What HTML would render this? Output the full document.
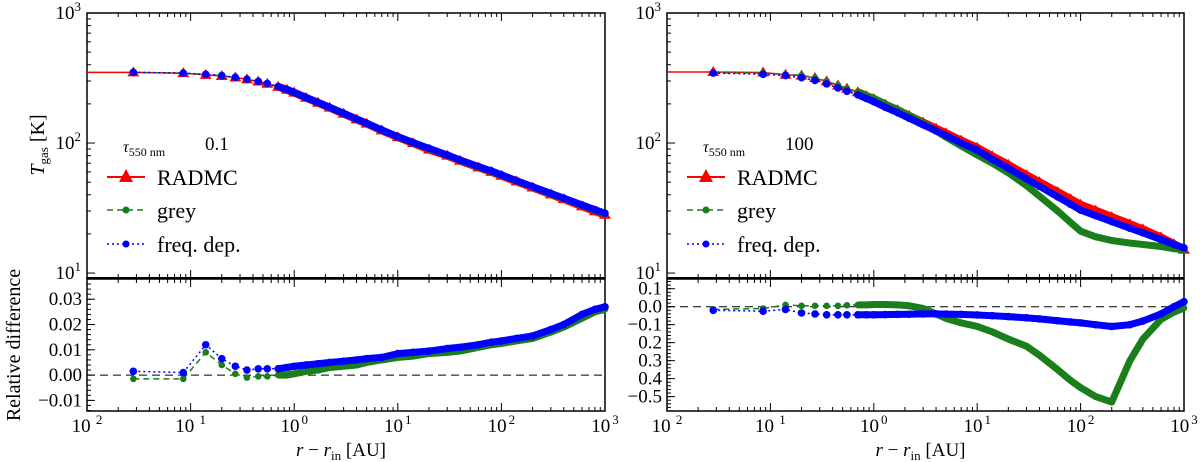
<!DOCTYPE html>
<html><head><meta charset="utf-8"><style>
html,body{margin:0;padding:0;background:#fff;}
svg{display:block;font-family:"Liberation Serif",serif;}
</style></head><body>
<svg id="chart" width="1200" height="462" viewBox="0 0 1200 462" xmlns="http://www.w3.org/2000/svg"></svg>
<script>
// ---- data ----
const radii = [0.028,0.085,0.14,0.2,0.27,0.35,0.45,0.55,0.7,0.85,1,1.3,1.7,2.2,3,4,5,7,10,14,20,30,40,60,80,100,140,200,300,400,600,800,1000];
const tauLeft = "0.1";
const tauRight = "100";
// left panel (tau=0.1)
const leftRadmc = [349.5,344.6,334,328,319,309,297,286,271,257,244,223,204,187,168,152,141,125,111,100,89,80,73,65,60,56,50.7,45.5,40.3,37,32.6,29.9,28.1];
const leftGrey  = [349,344,337,329,319,309,297,286,271,257,244.5,223.5,204.5,187.5,168.5,152.5,141.5,125.5,111.5,100.5,90.5,80.5,73.5,65.5,60.5,56.5,51.1,45.9,40.7,37.4,33.1,30.4,28.6];
const leftFreq  = [350,345,338,330,320,310,298,287,272,258,245,224,205,188,169,153,142,126,112,101,91,81,74,66,61,57,51.4,46.2,41,37.7,33.4,30.7,28.9];
const leftDiffGrey = [-0.0015,-0.0015,0.009,0.004,0.0005,-0.001,-0.0005,-0.0005,0,0,0.0005,0.0015,0.002,0.003,0.0035,0.004,0.005,0.006,0.007,0.0075,0.0085,0.009,0.0095,0.011,0.012,0.0125,0.0135,0.0145,0.017,0.019,0.0225,0.025,0.026];
const leftDiffFreq = [0.0015,0.001,0.012,0.0065,0.0035,0.002,0.0025,0.0025,0.0025,0.003,0.0035,0.004,0.0045,0.005,0.0055,0.006,0.0065,0.007,0.0085,0.009,0.0095,0.0105,0.011,0.012,0.013,0.0135,0.0145,0.0155,0.018,0.02,0.024,0.026,0.027];
// right panel (tau=100)
const rightRadmc = [352,349,335,330,316,298,277,262,246,230,218,197,179,162,144,129,119,104.5,92,79,68,56.5,50,42,37,33.5,30.2,27,23.8,21.7,18.8,16.7,15.1];
const rightGrey  = [347,345,338,332,318,300,279,264,248,232,221,199,181,163,143,124,111,95,81,70,59,47,39,30,24.5,21,19,17.8,17,16.6,16,15.4,15];
const rightFreq  = [345,338,330,318,303,285,265,250,235,220,208,188,171,155,138,124,114,100,88,75,64,53,46.5,38.6,33.8,30.5,27.6,24.9,22.1,20.4,18.1,16.6,15.6];
const rightDiffGrey = [-0.015,-0.01,0.01,0.005,0.005,0.005,0.005,0.008,0.01,0.01,0.012,0.012,0.01,0.005,-0.01,-0.04,-0.065,-0.09,-0.11,-0.14,-0.18,-0.22,-0.27,-0.35,-0.41,-0.45,-0.5,-0.53,-0.3,-0.18,-0.07,-0.03,-0.007];
const rightDiffFreq = [-0.02,-0.025,-0.015,-0.035,-0.04,-0.045,-0.045,-0.045,-0.045,-0.045,-0.045,-0.044,-0.043,-0.042,-0.04,-0.04,-0.041,-0.043,-0.046,-0.05,-0.055,-0.062,-0.068,-0.078,-0.085,-0.09,-0.1,-0.11,-0.1,-0.08,-0.04,0.0,0.028];
const xTickExp = ["−2","−1","0","1","2","3"];
const leftDiffTicks = [0.03,0.02,0.01,0.00,-0.01];
const leftDiffLabels = ["0.03","0.02","0.01","0.00","−0.01"];
const rightDiffTicks = [0.1,0.0,-0.1,-0.2,-0.3,-0.4,-0.5];
const rightDiffLabels = ["0.1","0.0","−0.1","0.2","0.3","0.4","−0.5"];

const NS="http://www.w3.org/2000/svg";
const svg=document.getElementById('chart');
function mk(tag,attrs,parent){const e=document.createElementNS(NS,tag);for(const k in attrs)e.setAttribute(k,attrs[k]);(parent||svg).appendChild(e);return e;}

function panel(px0,px1,tau,radmc,grey,freq,dGrey,dFreq,dTicks,dLabels,dMin,dMax,side){
  const g=mk('g',{});
  
  
  const topY0=13,topY1=278,botY0=279,botY1=411;
  const xs=r=>px0+(Math.log10(r)+2)/5*(px1-px0);
  const ys=T=>topY0+(3-Math.log10(T))/(3-0.962)*(topY1-topY0);
  const yd=v=>botY0+(dMax-v)/(dMax-dMin)*(botY1-botY0);
  const f1=mk('rect',{x:px0,y:topY0,width:px1-px0,height:topY1-topY0,fill:'none',stroke:'#000','stroke-width':1.5},g);
  
  
  const f2=mk('rect',{x:px0,y:botY0,width:px1-px0,height:botY1-botY0,fill:'none',stroke:'#000','stroke-width':1.5},g);
  
  
  mk('line',{x1:px0,x2:px1,y1:topY1,y2:topY1,stroke:'#000','stroke-width':2},g);
  for(let d=-2;d<=3;d++){
    for(let m=1;m<=9;m++){
      if(d==3&&m>1)break;
      const x=xs(m*Math.pow(10,d));const L=m==1?8:4;
      [topY0,botY0].forEach(y=>mk('line',{x1:x,x2:x,y1:y,y2:y+L,stroke:'#000','stroke-width':1},g));
      [topY1,botY1].forEach(y=>mk('line',{x1:x,x2:x,y1:y,y2:y-L,stroke:'#000','stroke-width':1},g));
    }
  }
  xTickExp.forEach((e,i)=>{
    const x=xs(Math.pow(10,i-2));
    const t=mk('text',{x:x,y:432,'font-size':19,'text-anchor':'middle'},g);
    
    
    t.textContent='10';
    const s=mk('tspan',{dx:2,dy:-8,'font-size':13},t);s.textContent=(e.startsWith('−')?' ':'')+e.replace('−','');
  });
  const xl=mk('text',{x:(px0+px1)/2-5,y:456,'font-size':19,'text-anchor':'middle'},g);
  
  
  xl.innerHTML='<tspan font-style="italic">r</tspan> − <tspan font-style="italic">r</tspan><tspan font-size="13" dy="4">in</tspan><tspan dy="-4"> [AU]</tspan>';
  for(let d=1;d<=2;d++)for(let m=1;m<=9;m++){const y=ys(m*Math.pow(10,d));mk('line',{x1:px0,x2:px0+(m==1?8:4),y1:y,y2:y,stroke:'#000'},g);}
  mk('line',{x1:px0,x2:px0+8,y1:ys(1000),y2:ys(1000),stroke:'#000'},g);
  [3,2,1].forEach(e=>{
    const t=mk('text',{x:px0-6,y:ys(Math.pow(10,e))+6,'font-size':19,'text-anchor':'end'},g);
    
    
    t.innerHTML='10<tspan font-size="13" dy="-8">'+e+'</tspan>';
  });
  dTicks.forEach((v,i)=>{
    const y=yd(v);mk('line',{x1:px0,x2:px0+8,y1:y,y2:y,stroke:'#000'},g);
    const t=mk('text',{x:px0-5,y:y+6,'font-size':19,'text-anchor':'end'},g);
    
    
    t.textContent=dLabels[i];
  });
  const step=(dTicks[0]-dTicks[1])/5;
  for(let v=dTicks[dTicks.length-1]-step*5;v<dMax;v+=step){if(v>dMin)mk('line',{x1:px0,x2:px0+4,y1:yd(v),y2:yd(v),stroke:'#000'},g);}
  const z=mk('line',{x1:px0,x2:px1,y1:yd(0),y2:yd(0),stroke:'#000','stroke-width':1,'stroke-dasharray':'8,5'},g);
  
  
  function series(vals,yf,color,dash,marker,name,flat){
    const sg=mk('g',{},g);
    
    
    let pts=radii.map((r,i)=>xs(r)+','+yf(vals[i]));
    if(flat)pts.unshift(px0+','+yf(vals[0]));
    mk('polyline',{points:pts.join(' '),fill:'none',stroke:color,'stroke-width':1.5,'stroke-dasharray':dash},sg);
    const dense=radii.map((r,i)=>r>=0.7?xs(r)+','+yf(vals[i]):null).filter(p=>p);
    mk('polyline',{points:dense.join(' '),fill:'none',stroke:color,'stroke-width':marker=='tri'?8:7,'stroke-linejoin':'round'},sg);
    radii.forEach((r,i)=>{
      const x=xs(r),y=yf(vals[i]);
      if(marker=='tri')mk('polygon',{points:`${x},${y-6} ${x-6},${y+4} ${x+6},${y+4}`,fill:color},sg);
      else mk('circle',{cx:x,cy:y,r:marker=='big'?3.8:3.3,fill:color},sg);
    });
  }
  series(radmc,ys,'#ff0000','','tri',side+'-radmc-series',true);
  series(grey,ys,'#1a7f1a','6,4','small',side+'-grey-series',false);
  series(freq,ys,'#0000ff','2,3','big',side+'-freq-series',false);
  series(dGrey,yd,'#1a7f1a','6,4','small',side+'-grey-diff-series',false);
  series(dFreq,yd,'#0000ff','2,3','big',side+'-freq-diff-series',false);
  const lx=px0+20;
  const lg=mk('g',{},g);
  
  
  const tt=mk('text',{x:px0+36,y:152,'font-size':16},lg);
  tt.innerHTML='<tspan font-style="italic">τ</tspan><tspan font-size="12" dy="4">550 nm</tspan>';
  const tv=mk('text',{x:px0+118,y:150,'font-size':19},lg);tv.textContent=tau;
  const ent=[['RADMC','#ff0000','','tri',177],['grey','#1a7f1a','6,4','small',210],['freq. dep.','#0000ff','2,3','big',244]];
  ent.forEach(e=>{
    const eg=mk('g',{},lg);
    
    
    mk('line',{x1:lx,x2:lx+38,y1:e[4],y2:e[4],stroke:e[1],'stroke-width':e[3]=='tri'?2:1.5,'stroke-dasharray':e[2]},eg);
    const cx=lx+19,cy=e[4];
    if(e[3]=='tri')mk('polygon',{points:`${cx},${cy-8} ${cx-7},${cy+5} ${cx+7},${cy+5}`,fill:e[1]},eg);
    else mk('circle',{cx:cx,cy:cy,r:3.5,fill:e[1]},eg);
    const t=mk('text',{x:lx+50,y:e[4]+8,'font-size':22},eg);t.textContent=e[0];
  });
}
panel(87,605,tauLeft,leftRadmc,leftGrey,leftFreq,leftDiffGrey,leftDiffFreq,leftDiffTicks,leftDiffLabels,-0.0142,0.038,'left');
panel(667,1184,tauRight,rightRadmc,rightGrey,rightFreq,rightDiffGrey,rightDiffFreq,rightDiffTicks,rightDiffLabels,-0.58,0.154,'right');
const yt=mk('text',{x:0,y:0,'font-size':20,'text-anchor':'middle',transform:'translate(44,145) rotate(-90)'});


yt.innerHTML='<tspan font-style="italic">T</tspan><tspan font-size="13" dy="4">gas</tspan><tspan dy="-4"> [K]</tspan>';
const yt2=mk('text',{x:0,y:0,'font-size':20,'text-anchor':'middle',transform:'translate(20,345) rotate(-90)'});


yt2.textContent='Relative difference';
</script>
</body></html>
